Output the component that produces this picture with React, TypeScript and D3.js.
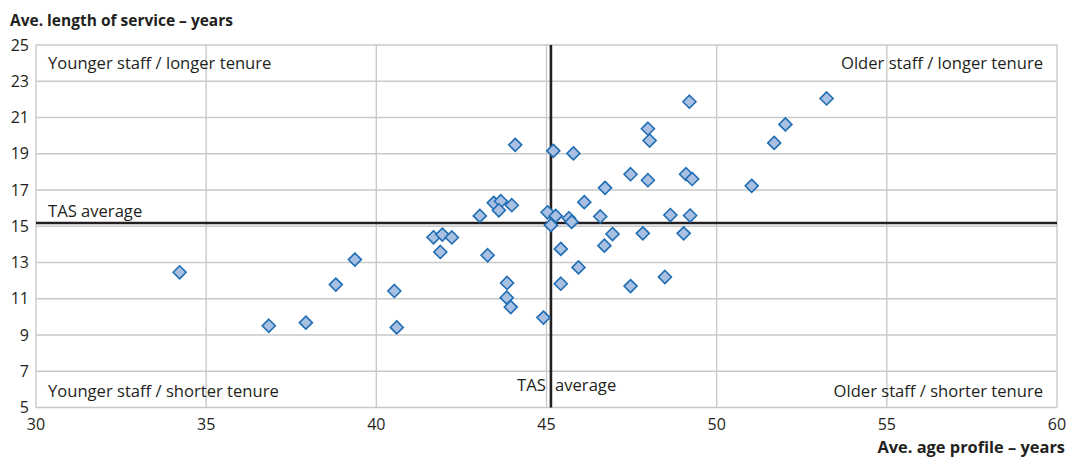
import React from "react";
import * as d3 from "d3";

const xTicks = [30, 35, 40, 45, 50, 55, 60];
const yTicks = [5, 7, 9, 11, 13, 15, 17, 19, 21, 23, 25];

const ageValues = [
  34.22, 36.84, 37.93, 38.81, 39.37, 40.53, 40.6,
  41.68, 41.94, 42.22, 41.88, 43.04, 43.27, 43.45, 43.66, 43.6, 43.98, 44.08,
  43.84, 43.83, 43.95, 44.91, 45.03, 45.2, 45.13, 45.27, 45.42, 45.42, 45.79,
  45.66, 45.74, 45.94, 46.11, 46.58, 46.72, 46.7, 46.94, 47.47, 47.47, 47.83,
  47.98, 48.03, 47.98, 48.48, 48.64, 49.03, 49.1, 49.28, 49.2, 49.22,
  51.03, 51.69, 52.02, 53.23,
];
const serviceValues = [
  12.46, 9.51, 9.68, 11.78, 13.16, 11.43, 9.42,
  14.39, 14.54, 14.38, 13.58, 15.57, 13.4, 16.29, 16.38, 15.88, 16.16, 19.49,
  11.87, 11.06, 10.54, 9.96, 15.77, 19.16, 15.06, 15.57, 13.75, 11.83, 19.02,
  15.44, 15.24, 12.73, 16.33, 15.54, 17.12, 13.93, 14.57, 17.87, 11.7, 14.61,
  20.38, 19.73, 17.54, 12.2, 15.62, 14.61, 17.87, 17.61, 21.87, 15.59,
  17.23, 19.6, 20.62, 22.05,
];

const avgAge = 45.13;
const avgService = 15.18;

const yTitle = "Ave. length of service – years";
const xTitle = "Ave. age profile – years";
const quadrantLabels = [
  "Younger staff / longer tenure",
  "Older staff / longer tenure",
  "Younger staff / shorter tenure",
  "Older staff / shorter tenure",
];
const avgLabel = "TAS average";

const FONT = "'Open Sans', sans-serif";

export default function App() {
  const W = 1069;
  const H = 458;
  const x = d3.scaleLinear().domain([30, 60]).range([36, 1057]);
  const y = d3.scaleLinear().domain([5, 25]).range([407.5, 45]);
  const grid = "#c9c9c9";
  const r = 6.5;
  const diamond = `M0,${-r}L${r},0L0,${r}L${-r},0Z`;
  const fs = 16.6;

  return (
    <svg
      width={W}
      height={H}
      style={{ position: "absolute", left: 0, top: 0, background: "#fff" }}
      fontFamily={FONT}
    >
      <rect x={0} y={0} width={W} height={H} fill="#fff" />
      {xTicks.map((t) => (
        <line key={"gx" + t} x1={x(t)} x2={x(t)} y1={y(25)} y2={y(5)} stroke={grid} strokeWidth={1.4} />
      ))}
      {yTicks.map((t) => (
        <line key={"gy" + t} x1={x(30)} x2={x(60)} y1={y(t)} y2={y(t)} stroke={grid} strokeWidth={1.4} />
      ))}
      {/* average lines */}
      <line x1={x(30)} x2={x(60)} y1={y(avgService)} y2={y(avgService)} stroke="#231f20" strokeWidth={2.6} />
      <line x1={x(avgAge)} x2={x(avgAge)} y1={y(25)} y2={y(5)} stroke="#231f20" strokeWidth={2.6} />

      {ageValues.map((a, i) => (
        <path
          key={"p" + i}
          d={diamond}
          transform={`translate(${x(a)},${y(serviceValues[i])})`}
          fill="#a9c0e3"
          stroke="#1f6db4"
          strokeWidth={1.6}
        />
      ))}

      {yTicks.map((t) => (
        <text key={"ty" + t} x={29} y={y(t)} dy="0.35em" textAnchor="end" fontSize={16} fill="#231f20">
          {t}
        </text>
      ))}
      {xTicks.map((t) => (
        <text key={"tx" + t} x={x(t)} y={429.5} textAnchor="middle" fontSize={16} fill="#231f20">
          {t}
        </text>
      ))}

      <text x={10} y={26} fontSize={15.5} fontWeight="bold" fill="#231f20">
        {yTitle}
      </text>
      <text x={1065} y={453} textAnchor="end" fontSize={16.4} fontWeight="bold" fill="#231f20">
        {xTitle}
      </text>

      <text x={48} y={69} fontSize={fs} fill="#231f20">{quadrantLabels[0]}</text>
      <text x={1043} y={69} textAnchor="end" fontSize={fs} fill="#231f20">{quadrantLabels[1]}</text>
      <text x={48} y={397} fontSize={fs} fill="#231f20">{quadrantLabels[2]}</text>
      <text x={1043} y={397} textAnchor="end" fontSize={fs} fill="#231f20">{quadrantLabels[3]}</text>
      <text x={48} y={216.5} fontSize={fs} fill="#231f20">{avgLabel}</text>
      <text x={517} y={391} fontSize={fs} fill="#231f20" style={{ wordSpacing: "5px" }}>{avgLabel}</text>
    </svg>
  );
}
